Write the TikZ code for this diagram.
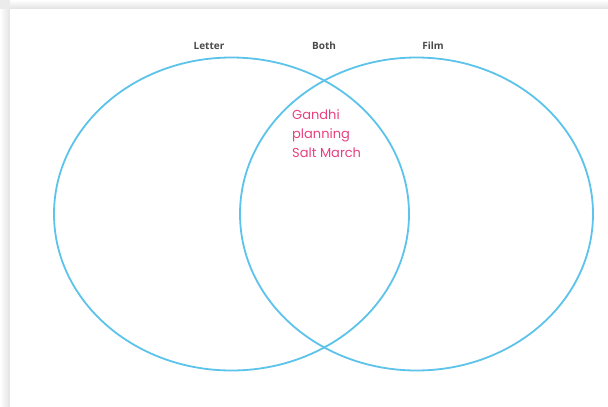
\documentclass[tikz,border=0pt]{standalone}
\usepackage{fontspec}
\setmainfont{Open Sans}
\newfontfamily\handfont{Poppins}
\definecolor{vennblue}{HTML}{5CC3EA}
\definecolor{labelgray}{HTML}{4A4A4A}
\definecolor{notepink}{HTML}{E8407F}
\definecolor{shadowgray}{HTML}{E2E2E2}
\begin{document}
\begin{tikzpicture}[x=1pt,y=-1pt,
  vennset/.style={draw=vennblue,line width=1.8pt},
  setlabel/.style={font=\fontsize{10}{11}\selectfont\bfseries,text=labelgray,inner sep=0pt},
  note/.style={font=\handfont\fontsize{13}{19}\selectfont,text=notepink,align=left,inner sep=0pt,anchor=north west}]
\useasboundingbox (0,0) rectangle (608,407);
\fill[white] (0,0) rectangle (608,407);
\shade[left color=white,right color=shadowgray] (0,9) rectangle (10,407);
\shade[top color=white,bottom color=shadowgray] (10,0) rectangle (608,9);
\fill[shadowgray!70] (0,0) rectangle (10,9);
\fill[white] (10,9) rectangle (608,407);
\draw[vennset] (231.5,214) ellipse [x radius=177.5, y radius=156.5];
\draw[vennset] (416.5,214) ellipse [x radius=176.5, y radius=156.5];
\node[setlabel] (letter) at (209,46) {Letter};
\node[setlabel] (both) at (324,46) {Both};
\node[setlabel] (film) at (433,46) {Film};
\node[note] (gandhi) at (292,109) {Gandhi\\planning\\Salt March};
\end{tikzpicture}
\end{document}
